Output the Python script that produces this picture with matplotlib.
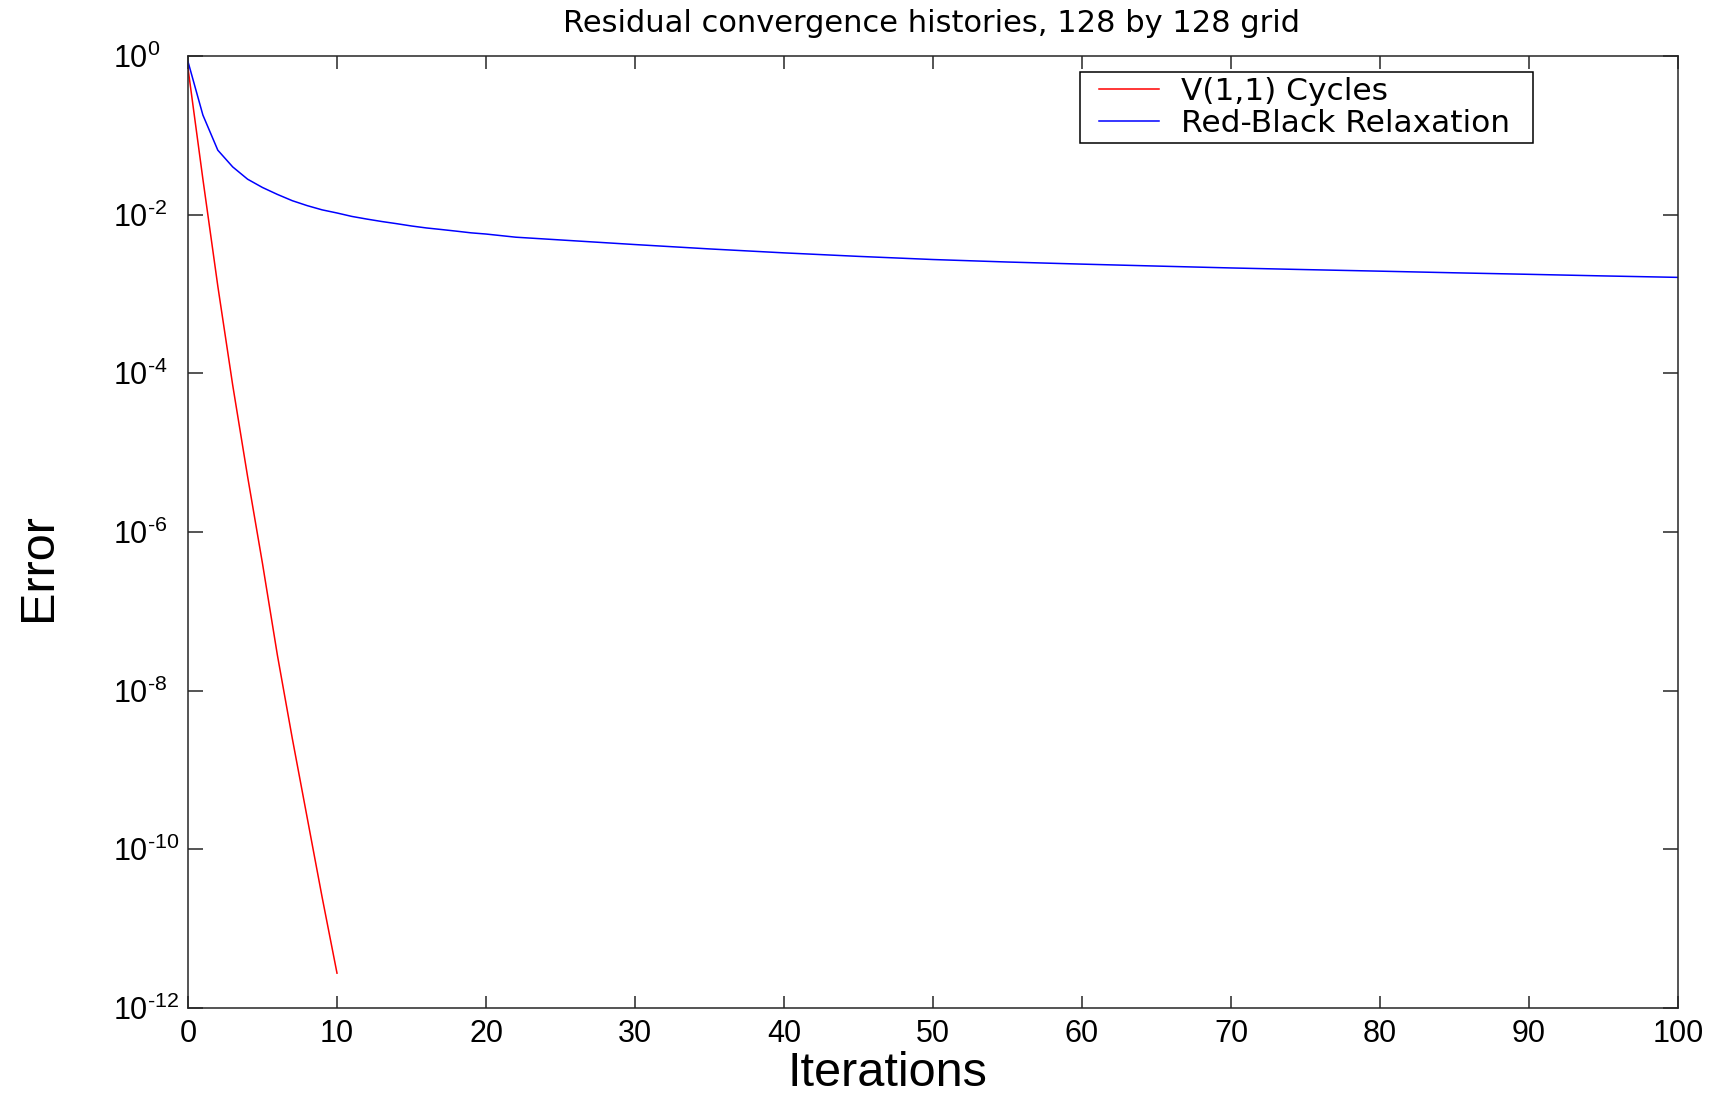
import math
import matplotlib
matplotlib.use("Agg")
import matplotlib.pyplot as plt
from matplotlib.ticker import FixedLocator, NullLocator, FuncFormatter
from matplotlib.legend_handler import HandlerLine2D

plt.rcParams['font.family'] = ['Liberation Sans', 'DejaVu Sans']
plt.rcParams['mathtext.fontset'] = 'custom'
plt.rcParams['mathtext.rm'] = 'Liberation Sans'
plt.rcParams['mathtext.default'] = 'regular'

# Multigrid V(1,1) cycles: residual after each cycle
vcycle_iter = [0, 1, 2, 3, 4, 5, 6, 7, 8, 9, 10]
vcycle_err = [0.7, 2.8e-2, 1.26e-3, 7.1e-5, 5.0e-6, 4.0e-7, 2.8e-8,
              2.5e-9, 2.5e-10, 2.5e-11, 2.75e-12]

# Red-black Gauss-Seidel relaxation: residual after each sweep
rb_iter = [0, 1, 2, 3, 4, 5, 6, 7, 8, 9, 10, 11, 12, 13, 14, 15, 16, 17,
           18, 19, 20, 22, 25, 30, 35, 40, 45, 50, 55, 60, 65, 70, 75, 80,
           85, 90, 95, 100]
rb_err = [0.85, 0.18, 0.065, 0.040, 0.028, 0.022, 0.018, 0.015, 0.013,
          0.0115, 0.0105, 0.0095, 0.0088, 0.0082, 0.0077, 0.0072, 0.0068,
          0.0065, 0.0062, 0.0059, 0.0057, 0.0052, 0.0048, 0.0042, 0.0037,
          0.0033, 0.00298, 0.00272, 0.00253, 0.00238, 0.00225, 0.00213,
          0.00203, 0.00194, 0.00185, 0.00177, 0.00169, 0.00162]

series_labels = ['V(1,1) Cycles', 'Red-Black Relaxation']
x_ticks = [0, 10, 20, 30, 40, 50, 60, 70, 80, 90, 100]
y_exponents = [-12, -10, -8, -6, -4, -2, 0]

W, H = 1717, 1100
fig = plt.figure(figsize=(W / 100, H / 100), dpi=100)
left, right, top, bottom = 188, 1678, 56, 1008
aw, ah = right - left, bottom - top
ax = fig.add_axes([left / W, 1 - bottom / H, aw / W, ah / H])

ax.plot(vcycle_iter, vcycle_err, color='#ff0000', lw=1.1, label=series_labels[0])
ax.plot(rb_iter, rb_err, color='#0000ff', lw=1.1, label=series_labels[1])

ax.set_yscale('log')
ax.set_xlim(0, 100)
ax.set_ylim(1e-12, 1e0)
ax.xaxis.set_major_locator(FixedLocator(x_ticks))
ax.yaxis.set_major_locator(FixedLocator([10.0 ** e for e in y_exponents]))
ax.yaxis.set_minor_locator(NullLocator())
ax.xaxis.set_minor_locator(NullLocator())


def decade_label(v, pos):
    e = round(math.log10(v))
    if e < 0:
        return r'$10^{\text{-}%d}$' % (-e)
    return r'$10^{%d}$' % e


ax.yaxis.set_major_formatter(FuncFormatter(decade_label))

for s in ax.spines.values():
    s.set_linewidth(1.1)
    s.set_color('#262626')

ax.tick_params(axis='both', which='major', direction='in', top=True, right=True,
               width=1.1, color='#262626', labelsize=22)
ax.tick_params(axis='y', length=11, pad=54)
ax.tick_params(axis='x', length=9, pad=8)
for lab in ax.get_yticklabels():
    lab.set_horizontalalignment('left')

ax.set_xlabel('Iterations', fontsize=35)
ax.xaxis.set_label_coords((887 - left) / aw, (bottom - 1073) / ah)
ax.xaxis.label.set_va('center')
ax.set_ylabel('Error', fontsize=35)
ax.yaxis.set_label_coords((38 - left) / aw, (bottom - 567) / ah)
ax.yaxis.label.set_va('center')

fig.text(931 / W, 1 - 24 / H, 'Residual convergence histories, 128 by 128 grid',
         ha='center', va='center', fontsize=22, family=['DejaVu Sans'])

# legend box spans a fixed width in the upper right corner
lx0, lx1, ly0 = 1080, 1533, 72
leg = ax.legend(loc='upper left', mode='expand',
                bbox_to_anchor=((lx0 - left) / aw, (bottom - 200) / ah,
                                (lx1 - lx0) / aw, (200 - ly0) / ah),
                fancybox=False, frameon=True, edgecolor='#000000', framealpha=1,
                prop={'family': 'DejaVu Sans', 'size': 22.5},
                handlelength=2.37, handletextpad=0.7, labelspacing=0.115,
                borderpad=0.15, borderaxespad=0,
                handler_map={plt.Line2D: HandlerLine2D(xpad=0.45)})
leg.get_frame().set_linewidth(1.1)

fig.savefig('out.png', dpi=100)
